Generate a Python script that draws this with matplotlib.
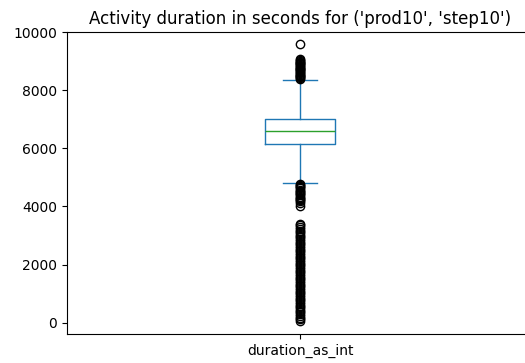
import matplotlib
matplotlib.use("Agg")
import matplotlib.pyplot as plt

# Data
label = "duration_as_int"
title = "Activity duration in seconds for ('prod10', 'step10')"
q1 = 6140
median = 6580
q3 = 7000
whisker_low = 4800
whisker_high = 8350
fliers_high = [8380, 8410, 8440, 8470, 8500, 8530, 8560, 8590, 8620, 8650,
               8680, 8710, 8740, 8770, 8800, 8830, 8860, 8890, 8920, 8950,
               8980, 9010, 9040, 9060, 9580]
fliers_mid = [4020, 4120, 4170, 4220, 4260, 4300, 4340, 4380, 4420, 4460,
              4500, 4540, 4580, 4620, 4660, 4700, 4740, 4780]
fliers_low = [60, 110, 170, 230, 290, 350, 410, 470, 530, 590, 650, 710,
              770, 830, 890, 950, 1010, 1070, 1130, 1190, 1250, 1310, 1370,
              1430, 1490, 1550, 1610, 1670, 1730, 1790, 1850, 1910, 1970,
              2030, 2090, 2150, 2210, 2270, 2330, 2390, 2450, 2510, 2570,
              2630, 2690, 2750, 2810, 2870, 2930, 2990, 3050, 3110, 3170,
              3230, 3290, 3350, 3400]
yticks = [0, 2000, 4000, 6000, 8000, 10000]

W, H = 525, 363
DPI = 100
fig = plt.figure(figsize=(W / DPI, H / DPI), dpi=DPI)
ax = fig.add_axes([67 / W, (H - 334) / H, 466 / W, (334 - 32) / H])

stats = [{
    "label": label,
    "med": median,
    "q1": q1,
    "q3": q3,
    "whislo": whisker_low,
    "whishi": whisker_high,
    "fliers": fliers_low + fliers_mid + fliers_high,
}]

blue = "#1f77b4"
green = "#2ca02c"
ax.bxp(stats,
       boxprops=dict(color=blue, linewidth=1.0),
       whiskerprops=dict(color=blue, linewidth=1.0),
       capprops=dict(color=blue, linewidth=1.0),
       medianprops=dict(color=green, linewidth=1.0),
       flierprops=dict(marker="o", markerfacecolor="none",
                       markeredgecolor="black", markersize=6))

ax.set_ylim(-390, 10000)
ax.set_yticks(yticks)
ax.spines["right"].set_visible(False)
ax.set_title(title)

fig.savefig("out.png", dpi=DPI)
